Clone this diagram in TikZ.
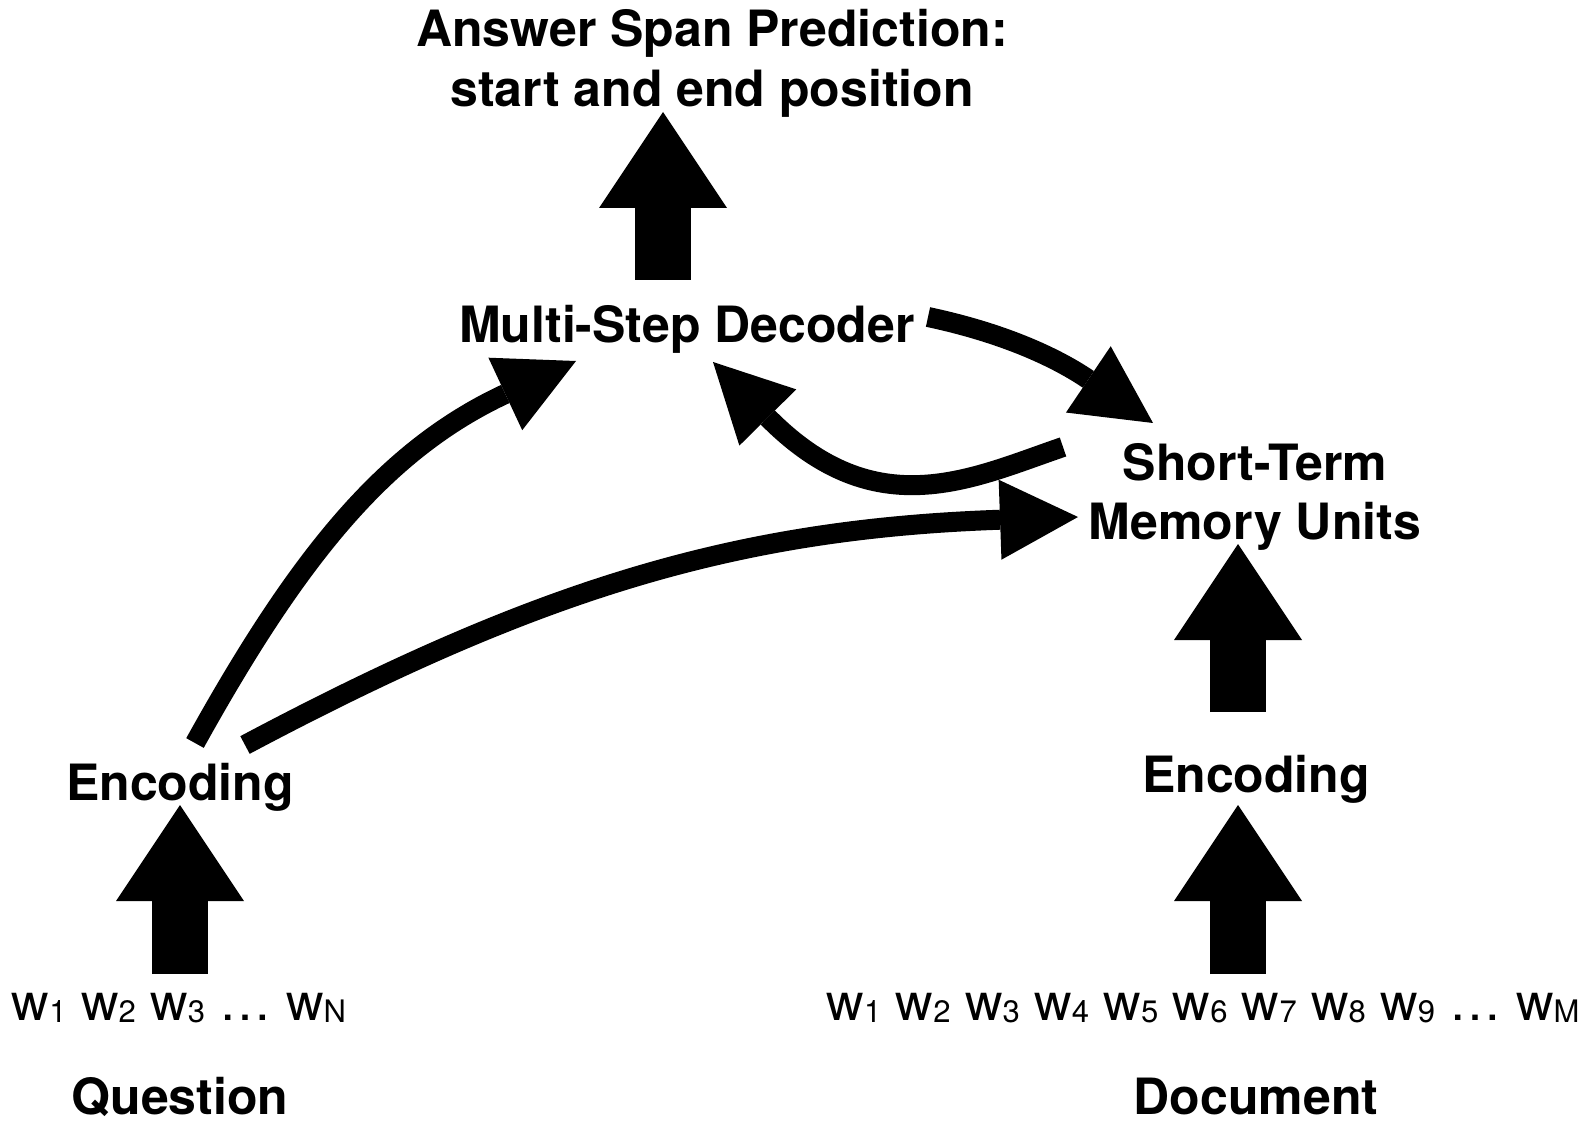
\documentclass[tikz,border=0pt]{standalone}
\usepackage{fontspec}
\setmainfont{TeX Gyre Heros}
\usetikzlibrary{arrows.meta}

\newcommand{\lblfont}{\fontsize{25}{29}\selectfont\bfseries}
\newcommand{\wordfont}{\fontsize{26}{30}\selectfont}
\newcommand{\wtok}[1]{w\raisebox{-1pt}{\fontsize{15.5}{16}\selectfont #1}}

\tikzset{
  lbl/.style={font=\lblfont, inner sep=0pt, anchor=base},
  words/.style={font=\wordfont, inner sep=0pt, anchor=base},
  bigup/.style={line width=28pt, -{Triangle[length=48pt, width=64pt, line width=0pt]}},
  curvy/.style={line width=10pt, -{Triangle[length=39pt, width=40pt, line width=0pt]}}
}

\begin{document}
\begin{tikzpicture}[x=0.5pt, y=0.5pt]

  % Fix the page to the size of the reference
  \useasboundingbox (0,0) rectangle (1589,1126);

  % Output at the top
  \node[lbl] (ans1) at (712,1079) {Answer Span Prediction:};
  \node[lbl] (ans2) at (712,1019) {start and end position};

  % Middle layer
  \node[lbl] (dec) at (687,783) {Multi-Step Decoder};
  \node[lbl] (stm) at (1255,646) {Short-Term};
  \node[lbl] (mem) at (1255,587) {Memory Units};

  % Encoders
  \node[lbl] (qenc) at (180,326) {Encoding};
  \node[lbl] (denc) at (1256,334) {Encoding};

  % Input words
  \node[words] (qword) at (179,106) {\wtok{1} \wtok{2} \wtok{3} \dots{} \wtok{N}};
  \node[words] (dword) at (1203,106) {\wtok{1} \wtok{2} \wtok{3} \wtok{4} \wtok{5} \wtok{6} \wtok{7} \wtok{8} \wtok{9} \dots{} \wtok{M}};

  % Captions
  \node[lbl] (qlab) at (180,12) {Question};
  \node[lbl] (dlab) at (1256,12) {Document};

  % Big upward arrows
  \draw[bigup] ([shift={(1,46)}]qword.base) -- ([shift={(0,-5)}]qenc.base);
  \draw[bigup] ([shift={(35,46)}]dword.base) -- ([shift={(-18,-13)}]denc.base);
  \draw[bigup] ([shift={(-18,80)}]denc.base) -- ([shift={(-17,-5)}]mem.base);
  \draw[bigup] ([shift={(-24,63)}]dec.base) -- ([shift={(-49,-5)}]ans2.base);

  % Curved arrows between the blocks
  \draw[curvy] ([shift={(15,57)}]qenc.base) to[out=61, in=205] ([shift={(-111,-18)}]dec.base);
  \draw[curvy] ([shift={(65,55)}]qenc.base) to[out=28, in=182] ([shift={(-177,22)}]mem.base);
  \draw[curvy] ([shift={(241,26)}]dec.base) to[out=348, in=146] ([shift={(-102,57)}]stm.base);
  \draw[curvy] ([shift={(-192,33)}]stm.base) .. controls +(-91,-31) and +(163,-165) .. ([shift={(26,-19)}]dec.base);

\end{tikzpicture}
\end{document}
